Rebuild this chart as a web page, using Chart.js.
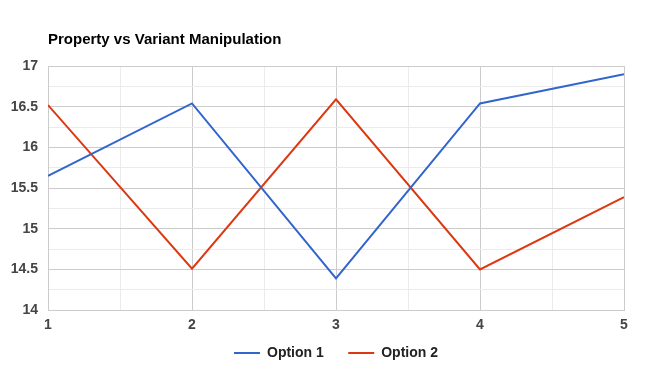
<!DOCTYPE html>
<html>
<head>
<meta charset="utf-8">
<script src="https://cdn.jsdelivr.net/npm/chart.js@4"></script>
<style>
html,body{margin:0;padding:0;background:#fff;}
canvas{display:block;}
</style>
</head>
<body>
<canvas id="c" width="665" height="371"></canvas>
<script>
const xValues = [1, 2, 3, 4, 5];
const option1 = [15.65, 16.54, 14.39, 16.54, 16.9];
const option2 = [16.52, 14.51, 16.59, 14.5, 15.39];
const seriesNames = ['Option 1', 'Option 2'];
const seriesColors = ['#3366cc', '#dc3912'];
const titleText = 'Property vs Variant Manipulation';

const FONT = '"Liberation Sans", Arial, sans-serif';
const toPts = arr => arr.map((v, i) => ({x: xValues[i], y: v}));
const isHalf = v => Math.abs(v * 2 - Math.round(v * 2)) < 1e-9;

new Chart(document.getElementById('c'), {
  type: 'line',
  data: {
    datasets: [
      {label: seriesNames[0], data: toPts(option1), borderColor: seriesColors[0], backgroundColor: seriesColors[0], borderWidth: 2, pointRadius: 0, tension: 0},
      {label: seriesNames[1], data: toPts(option2), borderColor: seriesColors[1], backgroundColor: seriesColors[1], borderWidth: 2, pointRadius: 0, tension: 0}
    ]
  },
  options: {
    responsive: false,
    animation: false,
    layout: {padding: {left: 8, right: 41, top: 0, bottom: 1}},
    plugins: {
      title: {
        display: true, text: titleText, align: 'start', color: '#000', fullSize: false,
        font: {family: FONT, size: 15, weight: 'bold'},
        padding: {top: 31, bottom: 17}
      },
      legend: {
        position: 'bottom', fullSize: false,
        labels: {
          color: '#222', boxWidth: 26, boxHeight: 2, padding: 5,
          font: {family: FONT, size: 14, weight: 'bold'},
          generateLabels: chart => chart.data.datasets.map((ds, i) => ({
            text: i === 0 ? ds.label + '     ' : ds.label,
            fillStyle: ds.borderColor, strokeStyle: ds.borderColor,
            lineWidth: 0, hidden: false, datasetIndex: i, fontColor: '#222'
          }))
        }
      },
      tooltip: {enabled: false}
    },
    scales: {
      x: {
        type: 'linear', min: 1, max: 5,
        ticks: {
          stepSize: 0.5, color: '#444', padding: 7,
          font: {family: FONT, size: 14, weight: 'bold'},
          callback: v => Number.isInteger(v) ? String(v) : ''
        },
        grid: {
          color: ctx => (ctx.tick && Number.isInteger(ctx.tick.value)) ? '#cccccc' : '#ebebeb',
          drawTicks: false, lineWidth: 1
        },
        border: {color: '#cccccc'}
      },
      y: {
        min: 14, max: 17,
        afterFit: s => { s.width = 40; },
        ticks: {
          stepSize: 0.25, color: '#444', padding: 10,
          font: {family: FONT, size: 14, weight: 'bold'},
          callback: v => isHalf(v) ? String(v) : ''
        },
        grid: {
          color: ctx => (ctx.tick && isHalf(ctx.tick.value)) ? '#cccccc' : '#ebebeb',
          drawTicks: false, lineWidth: 1
        },
        border: {color: '#cccccc'}
      }
    }
  }
});
</script>
</body>
</html>
